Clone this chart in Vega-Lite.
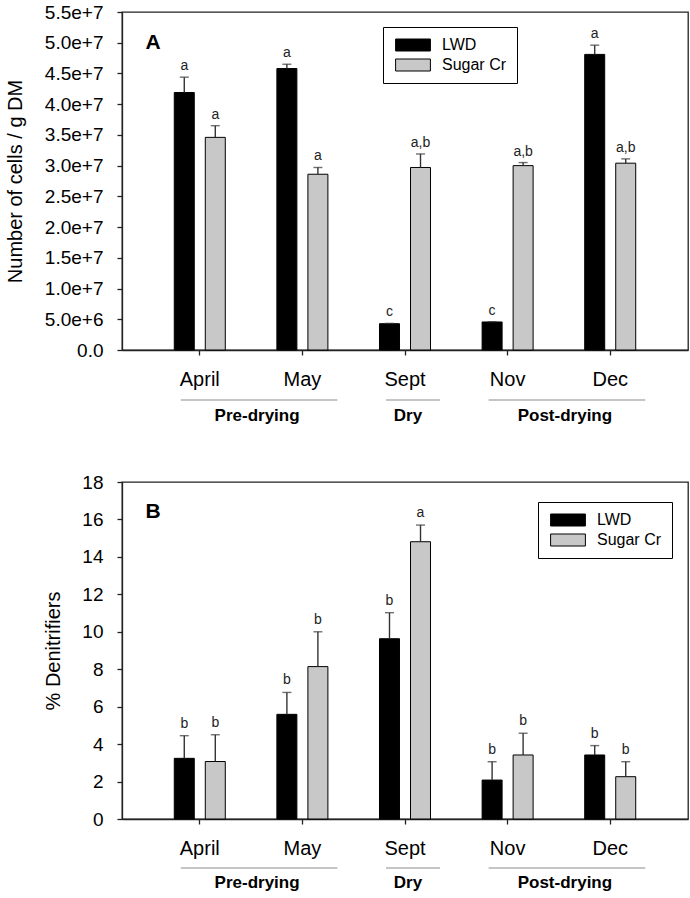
{
  "$schema": "https://vega.github.io/schema/vega-lite/v6.json",
  "padding": {"left": 4, "top": 2, "right": 2, "bottom": 0},
  "spacing": 0,
  "resolve": {"scale": {"color": "independent"}, "legend": {"color": "independent"}},
  "config": {
    "font": "Liberation Sans",
    "view": {"stroke": "#222", "strokeWidth": 1.3},
    "axis": {"grid": false, "domainColor": "#222", "domainWidth": 1.3, "tickColor": "#222", "tickWidth": 1.3, "tickSize": 5, "labelColor": "#000", "titleColor": "#000", "titleFontWeight": "normal", "labelFont": "Liberation Sans", "titleFont": "Liberation Sans"},
    "legend": {"labelFont": "Liberation Sans", "labelColor": "#000"}
  },
  "datasets": {
    "cells": [
      {"month": "April", "site": "LWD", "value": 41900000, "err": 44400000, "letter": "a"},
      {"month": "April", "site": "Sugar Cr", "value": 34600000, "err": 36500000, "letter": "a"},
      {"month": "May", "site": "LWD", "value": 45800000, "err": 46500000, "letter": "a"},
      {"month": "May", "site": "Sugar Cr", "value": 28600000, "err": 29700000, "letter": "a"},
      {"month": "Sept", "site": "LWD", "value": 4280000, "err": 4330000, "letter": "c"},
      {"month": "Sept", "site": "Sugar Cr", "value": 29700000, "err": 31900000, "letter": "a,b"},
      {"month": "Nov", "site": "LWD", "value": 4560000, "err": 4600000, "letter": "c"},
      {"month": "Nov", "site": "Sugar Cr", "value": 30000000, "err": 30500000, "letter": "a,b"},
      {"month": "Dec", "site": "LWD", "value": 48100000, "err": 49600000, "letter": "a"},
      {"month": "Dec", "site": "Sugar Cr", "value": 30400000, "err": 31100000, "letter": "a,b"}
    ],
    "denit": [
      {"month": "April", "site": "LWD", "value": 3.24, "err": 4.45, "letter": "b"},
      {"month": "April", "site": "Sugar Cr", "value": 3.07, "err": 4.5, "letter": "b"},
      {"month": "May", "site": "LWD", "value": 5.59, "err": 6.76, "letter": "b"},
      {"month": "May", "site": "Sugar Cr", "value": 8.14, "err": 10.0, "letter": "b"},
      {"month": "Sept", "site": "LWD", "value": 9.63, "err": 11.02, "letter": "b"},
      {"month": "Sept", "site": "Sugar Cr", "value": 14.81, "err": 15.7, "letter": "a"},
      {"month": "Nov", "site": "LWD", "value": 2.08, "err": 3.06, "letter": "b"},
      {"month": "Nov", "site": "Sugar Cr", "value": 3.42, "err": 4.58, "letter": "b"},
      {"month": "Dec", "site": "LWD", "value": 3.42, "err": 3.92, "letter": "b"},
      {"month": "Dec", "site": "Sugar Cr", "value": 2.26, "err": 3.06, "letter": "b"}
    ],
    "groups": [
      {"group": "Pre-drying", "from": "April", "to": "May"},
      {"group": "Dry", "from": "Sept", "to": "Sept"},
      {"group": "Post-drying", "from": "Nov", "to": "Dec"}
    ]
  },
  "vconcat": [
    {
      "width": 566, "height": 338,
      "layer": [
        {
          "data": {"name": "cells"},
          "mark": {"type": "bar", "stroke": "#000", "strokeWidth": 1},
          "encoding": {
            "x": {"field": "month", "type": "nominal", "scale": {"domain": ["April", "May", "Sept", "Nov", "Dec"], "paddingInner": 0, "paddingOuter": 0.258}, "axis": {"title": null, "labelAngle": 0, "labelFontSize": 20, "labelPadding": 14}},
            "xOffset": {"field": "site", "type": "nominal", "scale": {"domain": ["LWD", "Sugar Cr"], "paddingInner": 0.355, "paddingOuter": 0.832}},
            "y": {"field": "value", "type": "quantitative", "scale": {"domain": [0, 55000000], "nice": false}, "axis": {"title": "Number of cells / g DM", "values": [0, 5000000, 10000000, 15000000, 20000000, 25000000, 30000000, 35000000, 40000000, 45000000, 50000000, 55000000], "labelExpr": "datum.value == 0 ? '0.0' : format(datum.value, '.1e')", "labelOverlap": false, "labelFlush": false, "labelFontSize": 19, "labelPadding": 14, "titleFontSize": 20, "titlePadding": 19}},
            "color": {"field": "site", "type": "nominal", "scale": {"domain": ["LWD", "Sugar Cr"], "range": ["#000000", "#c8c8c8"]}, "legend": {"title": null, "orient": "none", "legendX": 261, "legendY": 15, "strokeColor": "#000", "fillColor": "#fff", "padding": 10, "symbolType": "M-2.9,-1H2.9V1H-2.9Z", "symbolSize": 144, "symbolOffset": 12, "symbolStrokeColor": "#000", "symbolStrokeWidth": 1, "labelFontSize": 16, "labelOffset": 21, "rowPadding": 4}}
          }
        },
        {
          "data": {"name": "cells"},
          "mark": {"type": "rule", "color": "#333", "strokeWidth": 1.4},
          "encoding": {
            "x": {"field": "month", "type": "nominal"},
            "xOffset": {"field": "site", "type": "nominal"},
            "y": {"field": "value", "type": "quantitative", "axis": {"title": "Number of cells / g DM", "values": [0, 5000000, 10000000, 15000000, 20000000, 25000000, 30000000, 35000000, 40000000, 45000000, 50000000, 55000000], "labelExpr": "datum.value == 0 ? '0.0' : format(datum.value, '.1e')", "labelOverlap": false, "labelFlush": false, "labelFontSize": 19, "labelPadding": 14, "titleFontSize": 20, "titlePadding": 19}},
            "y2": {"field": "err"}
          }
        },
        {
          "data": {"name": "cells"},
          "mark": {"type": "tick", "color": "#333", "thickness": 1.4, "size": 9, "orient": "horizontal"},
          "encoding": {
            "x": {"field": "month", "type": "nominal"},
            "xOffset": {"field": "site", "type": "nominal"},
            "y": {"field": "err", "type": "quantitative", "axis": {"title": "Number of cells / g DM", "values": [0, 5000000, 10000000, 15000000, 20000000, 25000000, 30000000, 35000000, 40000000, 45000000, 50000000, 55000000], "labelExpr": "datum.value == 0 ? '0.0' : format(datum.value, '.1e')", "labelOverlap": false, "labelFlush": false, "labelFontSize": 19, "labelPadding": 14, "titleFontSize": 20, "titlePadding": 19}}
          }
        },
        {
          "data": {"name": "cells"},
          "mark": {"type": "text", "fontSize": 14, "dy": -7, "baseline": "alphabetic", "color": "#222"},
          "encoding": {
            "x": {"field": "month", "type": "nominal"},
            "xOffset": {"field": "site", "type": "nominal"},
            "y": {"field": "err", "type": "quantitative", "axis": {"title": "Number of cells / g DM", "values": [0, 5000000, 10000000, 15000000, 20000000, 25000000, 30000000, 35000000, 40000000, 45000000, 50000000, 55000000], "labelExpr": "datum.value == 0 ? '0.0' : format(datum.value, '.1e')", "labelOverlap": false, "labelFlush": false, "labelFontSize": 19, "labelPadding": 14, "titleFontSize": 20, "titlePadding": 19}},
            "text": {"field": "letter"}
          }
        },
        {
          "data": {"values": [{"panel": "A"}]},
          "mark": {"type": "text", "fontSize": 21, "fontWeight": "bold", "align": "left", "baseline": "alphabetic", "dx": -3, "color": "#000"},
          "encoding": {
            "x": {"datum": "April", "type": "nominal", "bandPosition": 0},
            "y": {"datum": 49000000, "type": "quantitative", "axis": {"title": "Number of cells / g DM", "values": [0, 5000000, 10000000, 15000000, 20000000, 25000000, 30000000, 35000000, 40000000, 45000000, 50000000, 55000000], "labelExpr": "datum.value == 0 ? '0.0' : format(datum.value, '.1e')", "labelOverlap": false, "labelFlush": false, "labelFontSize": 19, "labelPadding": 14, "titleFontSize": 20, "titlePadding": 19}},
            "text": {"field": "panel"}
          }
        }
      ]
    },
    {
      "width": 566, "height": 82,
      "view": {"stroke": null},
      "data": {"name": "groups"},
      "layer": [
        {
          "mark": {"type": "rule", "color": "#8c8c8c", "strokeWidth": 1.2, "xOffset": -19, "x2Offset": 35},
          "encoding": {
            "x": {"field": "from", "type": "nominal", "scale": {"domain": ["April", "May", "Sept", "Nov", "Dec"], "paddingInner": 0, "paddingOuter": 0.258}, "axis": null},
            "x2": {"field": "to"},
            "y": {"datum": 0.878, "type": "quantitative", "scale": {"domain": [0, 1]}, "axis": null}
          }
        },
        {
          "transform": [{"filter": "datum.from != datum.to"}],
          "mark": {"type": "text", "fontSize": 17, "fontWeight": "bold", "baseline": "alphabetic", "dx": 6, "color": "#000"},
          "encoding": {
            "x": {"field": "to", "type": "nominal", "bandPosition": 0},
            "y": {"datum": 0.616, "type": "quantitative"},
            "text": {"field": "group"}
          }
        },
        {
          "transform": [{"filter": "datum.from == datum.to"}],
          "mark": {"type": "text", "fontSize": 17, "fontWeight": "bold", "baseline": "alphabetic", "dx": 3, "color": "#000"},
          "encoding": {
            "x": {"field": "to", "type": "nominal", "bandPosition": 0.5},
            "y": {"datum": 0.616, "type": "quantitative"},
            "text": {"field": "group"}
          }
        }
      ]
    },
    {
      "width": 566, "height": 337,
      "layer": [
        {
          "data": {"name": "denit"},
          "mark": {"type": "bar", "stroke": "#000", "strokeWidth": 1},
          "encoding": {
            "x": {"field": "month", "type": "nominal", "scale": {"domain": ["April", "May", "Sept", "Nov", "Dec"], "paddingInner": 0, "paddingOuter": 0.258}, "axis": {"title": null, "labelAngle": 0, "labelFontSize": 20, "labelPadding": 14}},
            "xOffset": {"field": "site", "type": "nominal", "scale": {"domain": ["LWD", "Sugar Cr"], "paddingInner": 0.355, "paddingOuter": 0.832}},
            "y": {"field": "value", "type": "quantitative", "scale": {"domain": [0, 18], "nice": false}, "axis": {"title": "% Denitrifiers", "values": [0, 2, 4, 6, 8, 10, 12, 14, 16, 18], "labelOverlap": false, "labelFlush": false, "labelFontSize": 19, "labelPadding": 14, "titleFontSize": 20, "titlePadding": 18}},
            "color": {"field": "site", "type": "nominal", "scale": {"domain": ["LWD", "Sugar Cr"], "range": ["#000000", "#c8c8c8"]}, "legend": {"title": null, "orient": "none", "legendX": 416, "legendY": 20, "strokeColor": "#000", "fillColor": "#fff", "padding": 10, "symbolType": "M-2.9,-1H2.9V1H-2.9Z", "symbolSize": 144, "symbolOffset": 12, "symbolStrokeColor": "#000", "symbolStrokeWidth": 1, "labelFontSize": 16, "labelOffset": 21, "rowPadding": 4}}
          }
        },
        {
          "data": {"name": "denit"},
          "mark": {"type": "rule", "color": "#333", "strokeWidth": 1.4},
          "encoding": {
            "x": {"field": "month", "type": "nominal"},
            "xOffset": {"field": "site", "type": "nominal"},
            "y": {"field": "value", "type": "quantitative", "axis": {"title": "% Denitrifiers", "values": [0, 2, 4, 6, 8, 10, 12, 14, 16, 18], "labelOverlap": false, "labelFlush": false, "labelFontSize": 19, "labelPadding": 14, "titleFontSize": 20, "titlePadding": 18}},
            "y2": {"field": "err"}
          }
        },
        {
          "data": {"name": "denit"},
          "mark": {"type": "tick", "color": "#333", "thickness": 1.4, "size": 9, "orient": "horizontal"},
          "encoding": {
            "x": {"field": "month", "type": "nominal"},
            "xOffset": {"field": "site", "type": "nominal"},
            "y": {"field": "err", "type": "quantitative", "axis": {"title": "% Denitrifiers", "values": [0, 2, 4, 6, 8, 10, 12, 14, 16, 18], "labelOverlap": false, "labelFlush": false, "labelFontSize": 19, "labelPadding": 14, "titleFontSize": 20, "titlePadding": 18}}
          }
        },
        {
          "data": {"name": "denit"},
          "mark": {"type": "text", "fontSize": 14, "dy": -8, "baseline": "alphabetic", "color": "#222"},
          "encoding": {
            "x": {"field": "month", "type": "nominal"},
            "xOffset": {"field": "site", "type": "nominal"},
            "y": {"field": "err", "type": "quantitative", "axis": {"title": "% Denitrifiers", "values": [0, 2, 4, 6, 8, 10, 12, 14, 16, 18], "labelOverlap": false, "labelFlush": false, "labelFontSize": 19, "labelPadding": 14, "titleFontSize": 20, "titlePadding": 18}},
            "text": {"field": "letter"}
          }
        },
        {
          "data": {"values": [{"panel": "B"}]},
          "mark": {"type": "text", "fontSize": 21, "fontWeight": "bold", "align": "left", "baseline": "alphabetic", "dx": -3, "color": "#000"},
          "encoding": {
            "x": {"datum": "April", "type": "nominal", "bandPosition": 0},
            "y": {"datum": 16.1, "type": "quantitative", "axis": {"title": "% Denitrifiers", "values": [0, 2, 4, 6, 8, 10, 12, 14, 16, 18], "labelOverlap": false, "labelFlush": false, "labelFontSize": 19, "labelPadding": 14, "titleFontSize": 20, "titlePadding": 18}},
            "text": {"field": "panel"}
          }
        }
      ]
    },
    {
      "width": 566, "height": 34,
      "view": {"stroke": null},
      "data": {"name": "groups"},
      "layer": [
        {
          "mark": {"type": "rule", "color": "#8c8c8c", "strokeWidth": 1.2, "xOffset": -19, "x2Offset": 35},
          "encoding": {
            "x": {"field": "from", "type": "nominal", "scale": {"domain": ["April", "May", "Sept", "Nov", "Dec"], "paddingInner": 0, "paddingOuter": 0.258}, "axis": null},
            "x2": {"field": "to"},
            "y": {"datum": 0.735, "type": "quantitative", "scale": {"domain": [0, 1]}, "axis": null}
          }
        },
        {
          "transform": [{"filter": "datum.from != datum.to"}],
          "mark": {"type": "text", "fontSize": 17, "fontWeight": "bold", "baseline": "alphabetic", "dx": 6, "color": "#000"},
          "encoding": {
            "x": {"field": "to", "type": "nominal", "bandPosition": 0},
            "y": {"datum": 0.15, "type": "quantitative"},
            "text": {"field": "group"}
          }
        },
        {
          "transform": [{"filter": "datum.from == datum.to"}],
          "mark": {"type": "text", "fontSize": 17, "fontWeight": "bold", "baseline": "alphabetic", "dx": 3, "color": "#000"},
          "encoding": {
            "x": {"field": "to", "type": "nominal", "bandPosition": 0.5},
            "y": {"datum": 0.15, "type": "quantitative"},
            "text": {"field": "group"}
          }
        }
      ]
    }
  ]
}
